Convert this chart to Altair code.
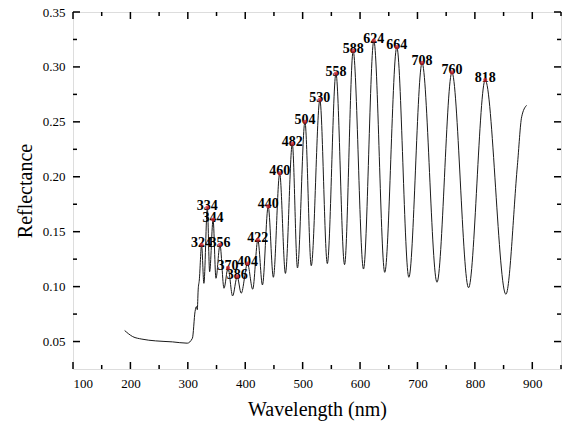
import altair as alt
import pandas as pd

# Reflectance spectrum: labelled interference maxima, minima between them,
# plus the flat UV baseline and the rising tail at the long-wavelength end.
peak_nm = [324, 334, 344, 356, 370, 386, 404, 422, 440, 460,
           482, 504, 530, 558, 588, 624, 664, 708, 760, 818]
peak_r = [0.138, 0.172, 0.161, 0.138, 0.117, 0.109, 0.121, 0.1425, 0.173, 0.203,
          0.230, 0.250, 0.270, 0.294, 0.3145, 0.324, 0.318, 0.3036, 0.295, 0.288]

trough_nm = [328, 338, 349, 363, 378, 393, 413, 430, 449, 470,
             491, 515, 543, 573, 606, 643, 685, 734, 789, 854]
trough_r = [0.103, 0.1136, 0.1076, 0.0985, 0.0915, 0.094, 0.0976, 0.1015, 0.1085, 0.112,
            0.117, 0.119, 0.121, 0.120, 0.116, 0.113, 0.1085, 0.104, 0.099, 0.093]

uv_nm = [190, 204, 220, 244, 273, 299, 308, 312.6, 315, 316.5, 318, 320]
uv_r = [0.060, 0.0545, 0.0522, 0.0506, 0.0497, 0.0485, 0.053, 0.0773, 0.0818, 0.079, 0.097, 0.106]

tail_nm = [874, 881.5, 890]
tail_r = [0.21, 0.2546, 0.265]

x_major = [100, 200, 300, 400, 500, 600, 700, 800, 900]
x_minor = [150, 250, 350, 450, 550, 650, 750, 850, 950]
y_major = [0.05, 0.10, 0.15, 0.20, 0.25, 0.30, 0.35]
y_minor = [0.075, 0.125, 0.175, 0.225, 0.275, 0.325]

W, H = 488, 357
FONT = "Liberation Serif"

spectrum = pd.DataFrame({
    "wavelength": uv_nm + peak_nm + trough_nm + tail_nm,
    "reflectance": uv_r + peak_r + trough_r + tail_r,
}).sort_values("wavelength").reset_index(drop=True)
spectrum["order"] = range(len(spectrum))

peaks = pd.DataFrame({"wavelength": peak_nm, "reflectance": peak_r,
                      "label": [str(v) for v in peak_nm]})

x_scale = alt.Scale(domain=[100, 950], nice=False, zero=False)
y_scale = alt.Scale(domain=[0.025, 0.35], nice=False, zero=False)

x_axis = alt.Axis(values=x_major, format="d", title="Wavelength (nm)",
                  ticks=False, tickSize=0, domain=False, grid=False,
                  labelPadding=8, titlePadding=9, labelFont=FONT, labelFontSize=13,
                  labelColor="black", titleFont=FONT, titleFontSize=20,
                  titleFontWeight="normal", titleColor="black")
y_axis = alt.Axis(values=y_major, format=".2f", title="Reflectance",
                  ticks=False, tickSize=0, domain=False, grid=False,
                  labelPadding=8, titlePadding=7, labelFont=FONT, labelFontSize=13,
                  labelColor="black", titleFont=FONT, titleFontSize=20,
                  titleFontWeight="normal", titleColor="black")

X = alt.X("wavelength:Q", scale=x_scale, axis=x_axis)
Y = alt.Y("reflectance:Q", scale=y_scale, axis=y_axis)

line = alt.Chart(spectrum).mark_line(
    color="#1a1a1a", strokeWidth=1, interpolate="monotone"
).encode(x=X, y=Y, order="order:Q")

labels = alt.Chart(peaks).mark_text(
    font=FONT, fontSize=14, fontWeight="bold", color="black",
    baseline="middle", align="center", dy=-2
).encode(x=X, y=Y, text="label:N")

dots = alt.Chart(peaks).mark_point(
    filled=True, shape="circle", size=18, color="#d0202a", opacity=0.75
).encode(x=X, y=Y)


def xticks(values, length):
    df = pd.DataFrame({"wavelength": values})
    base = alt.Chart(df).mark_rule(color="black", strokeWidth=1.5)
    bottom = base.encode(x=X, y=alt.value(H), y2=alt.value(H - length))
    top = base.encode(x=X, y=alt.value(0), y2=alt.value(length))
    return [bottom, top]


def yticks(values, length):
    df = pd.DataFrame({"reflectance": values})
    base = alt.Chart(df).mark_rule(color="black", strokeWidth=1.5)
    left = base.encode(y=Y, x=alt.value(0), x2=alt.value(length))
    right = base.encode(y=Y, x=alt.value(W), x2=alt.value(W - length))
    return [left, right]


tick_layers = (xticks(x_major, 7) + xticks(x_minor, 4)
               + yticks(y_major, 7) + yticks(y_minor, 4))

chart = alt.layer(line, labels, dots, *tick_layers).properties(
    width=W, height=H,
    autosize=alt.AutoSizeParams(type="none"),
    padding={"left": 73, "top": 12, "right": 568 - 73 - W, "bottom": 429 - 12 - H},
).configure_view(
    stroke="black", strokeWidth=1.5
).configure(background="white")

chart.save("out.html", embed_options={"renderer": "svg", "actions": False})
